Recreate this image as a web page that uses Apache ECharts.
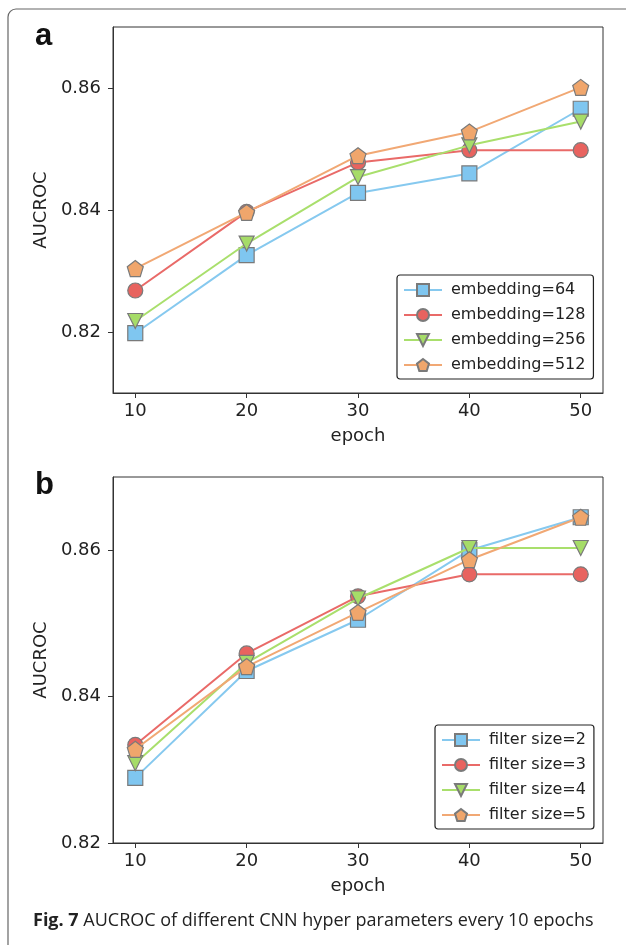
<!DOCTYPE html>
<html>
<head>
<meta charset="utf-8">
<script src="https://cdn.jsdelivr.net/npm/echarts@6/dist/echarts.min.js"></script>
<style>
html,body{margin:0;padding:0;background:#fff;}
#chart{width:626px;height:945px;}
</style>
</head>
<body>
<div id="chart"></div>
<script>
// ---- data ----
const epochs = [10, 20, 30, 40, 50];
const xTicks = [10, 20, 30, 40, 50];
const yTicksA = [0.82, 0.84, 0.86];
const yTicksB = [0.82, 0.84, 0.86];

const namesA = ['embedding=64', 'embedding=128', 'embedding=256', 'embedding=512'];
const emb64  = [0.8198, 0.8326, 0.8428, 0.8460, 0.8566];
const emb128 = [0.8268, 0.8397, 0.8478, 0.8498, 0.8498];
const emb256 = [0.8218, 0.8345, 0.8454, 0.8506, 0.8545];
const emb512 = [0.8304, 0.8396, 0.8489, 0.8528, 0.8601];

const namesB = ['filter size=2', 'filter size=3', 'filter size=4', 'filter size=5'];
const fs2 = [0.8289, 0.8435, 0.8505, 0.8600, 0.8645];
const fs3 = [0.8334, 0.8459, 0.8537, 0.8567, 0.8567];
const fs4 = [0.8309, 0.8446, 0.8534, 0.8603, 0.8603];
const fs5 = [0.8328, 0.8441, 0.8515, 0.8587, 0.8645];

// ---- styles ----
const lineColors = ['#86c9ef', '#e96a68', '#a9df6c', '#f1a874'];
const fillColors = ['#7fc6f0', '#e8635f', '#a6dc68', '#f0a66c'];
const pentagon = 'path://M0,-1 L0.951,-0.309 L0.588,0.809 L-0.588,0.809 L-0.951,-0.309 Z';
const symbols = ['rect', 'circle', 'triangle', pentagon];
const rotates = [0, 0, 180, 0];
const sizes = [15, 15, 15, 16];
const FONT = 'DejaVu Sans';

function mkSeries(names, arrs, axisIdx) {
  return arrs.map((arr, i) => ({
    type: 'line',
    name: names[i],
    xAxisIndex: axisIdx,
    yAxisIndex: axisIdx,
    data: epochs.map((e, j) => [e, arr[j]]),
    symbol: symbols[i],
    symbolRotate: rotates[i],
    symbolSize: sizes[i],
    showAllSymbol: true,
    lineStyle: { color: lineColors[i], width: 2 },
    itemStyle: { color: fillColors[i], borderColor: '#7a7a7a', borderWidth: 1.2 },
    emphasis: { disabled: true },
    animation: false,
    z: 2 + i
  }));
}

function xAxis(gi) {
  return {
    type: 'value', gridIndex: gi, min: 8, max: 52,
    name: 'epoch', nameLocation: 'middle', nameGap: 34,
    nameTextStyle: { fontFamily: FONT, fontSize: 18, color: '#222' },
    axisLine: { show: true, onZero: false, lineStyle: { color: '#333', width: 1 } },
    axisTick: { show: true, inside: false, length: 5, customValues: xTicks, lineStyle: { color: '#333' } },
    axisLabel: { customValues: xTicks, fontFamily: FONT, fontSize: 18, color: '#222', margin: 9 },
    splitLine: { show: false }
  };
}
function yAxis(gi, min, max, ticks) {
  return {
    type: 'value', gridIndex: gi, min: min, max: max,
    name: 'AUCROC', nameLocation: 'middle', nameGap: 62, nameRotate: 90,
    nameTextStyle: { fontFamily: FONT, fontSize: 18, color: '#222' },
    axisLine: { show: true, onZero: false, lineStyle: { color: '#333', width: 1 } },
    axisTick: { show: true, inside: false, length: 5, customValues: ticks, lineStyle: { color: '#333' } },
    axisLabel: { customValues: ticks, fontFamily: FONT, fontSize: 18, color: '#222', margin: 12,
      formatter: v => v.toFixed(2) },
    splitLine: { show: false }
  };
}
function legend(names, left, top) {
  return {
    data: names,
    orient: 'vertical',
    left: left, top: top,
    itemWidth: 38, itemHeight: 15, itemGap: 9,
    padding: [7, 8, 6, 6],
    borderColor: '#222', borderWidth: 1.2, borderRadius: 3,
    backgroundColor: '#fff',
    textStyle: { fontFamily: FONT, fontSize: 16, color: '#222', padding: [0, 0, 0, 4] },
    selectedMode: false
  };
}

const chart = echarts.init(document.getElementById('chart'), null, { renderer: 'canvas' });
chart.setOption({
  animation: false,
  backgroundColor: '#fff',
  grid: [
    { left: 113, top: 27, width: 490, height: 366, show: true, borderColor: '#333', borderWidth: 1, backgroundColor: 'transparent' },
    { left: 113, top: 477, width: 490, height: 366, show: true, borderColor: '#333', borderWidth: 1, backgroundColor: 'transparent' }
  ],
  xAxis: [xAxis(0), xAxis(1)],
  yAxis: [yAxis(0, 0.81, 0.87, yTicksA), yAxis(1, 0.82, 0.87, yTicksB)],
  legend: [legend(namesA, 397, 275), legend(namesB, 435, 725)],
  series: mkSeries(namesA, [emb64, emb128, emb256, emb512], 0)
    .concat(mkSeries(namesB, [fs2, fs3, fs4, fs5], 1)),
  graphic: [
    { type: 'rect', shape: { x: 8, y: 9, width: 700, height: 1000, r: 8 },
      style: { fill: 'none', stroke: '#666', lineWidth: 1.2 }, silent: true, z: -1 },
    { type: 'text', left: 35, top: 21, style: { text: 'a', font: 'bold 31px "Liberation Sans"', fill: '#111' } },
    { type: 'text', left: 35, top: 470, style: { text: 'b', font: 'bold 31px "Liberation Sans"', fill: '#111' } },
    { type: 'text', left: 33, top: 912, style: {
        text: '{b|Fig. 7} AUCROC of different CNN hyper parameters every 10 epochs',
        font: '18px "Open Sans"', fill: '#222',
        rich: { b: { font: 'bold 18px "Open Sans"', fill: '#222' } }
      } }
  ]
});
</script>
</body>
</html>
